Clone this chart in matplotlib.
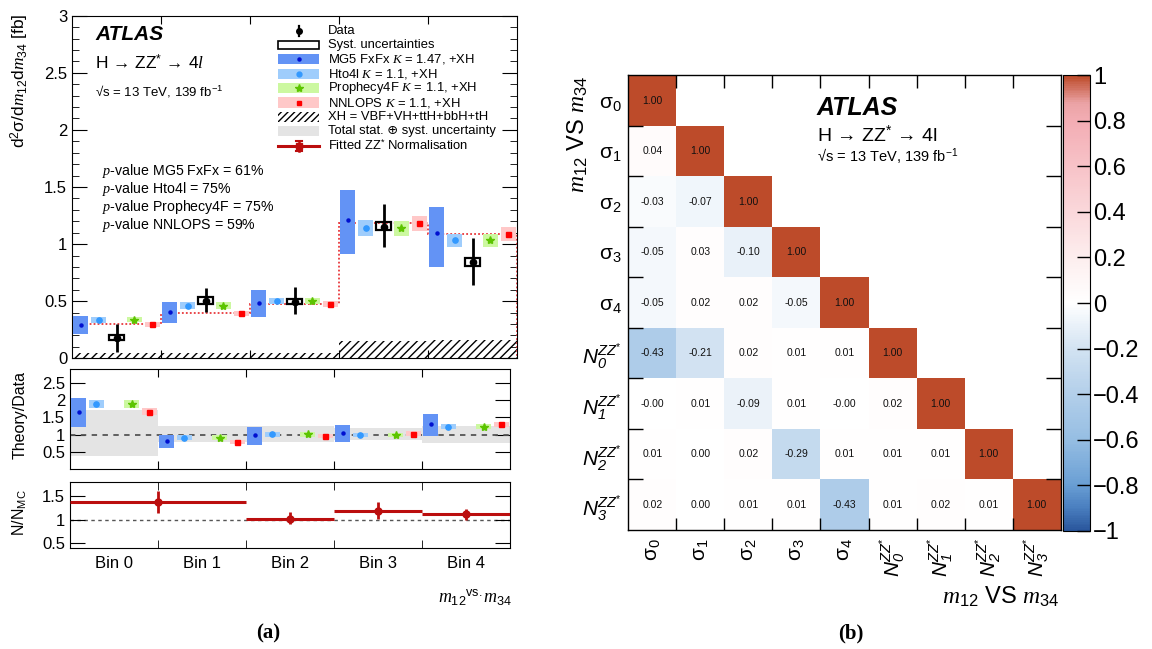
import matplotlib
matplotlib.use('Agg')

import numpy as np
import matplotlib.pyplot as plt
from matplotlib.patches import Rectangle
from matplotlib.lines import Line2D
from matplotlib.colors import LinearSegmentedColormap
from matplotlib.ticker import MultipleLocator, NullLocator, FixedLocator, FuncFormatter

plt.rcParams['font.family'] = ['Liberation Sans', 'DejaVu Sans']
plt.rcParams['mathtext.fontset'] = 'custom'
plt.rcParams['mathtext.rm'] = 'Liberation Sans'
plt.rcParams['mathtext.it'] = 'Liberation Serif:italic'
plt.rcParams['mathtext.bf'] = 'Liberation Sans:bold'
plt.rcParams['mathtext.sf'] = 'Liberation Sans:italic'
plt.rcParams['hatch.linewidth'] = 1.0

# ---- panel (a) data ----
bins = ["Bin 0", "Bin 1", "Bin 2", "Bin 3", "Bin 4"]

mg5 = [0.294, 0.409, 0.485, 1.215, 1.094]
mg5_lo = [0.212, 0.309, 0.358, 0.909, 0.803]
mg5_hi = [0.367, 0.494, 0.597, 1.470, 1.329]
hto4l = [0.338, 0.461, 0.500, 1.144, 1.033]
hto4l_lo = [0.309, 0.432, 0.473, 1.073, 0.971]
hto4l_hi = [0.358, 0.490, 0.530, 1.209, 1.086]
proph = [0.338, 0.461, 0.503, 1.141, 1.035]
proph_lo = [0.314, 0.432, 0.473, 1.070, 0.976]
proph_hi = [0.362, 0.490, 0.532, 1.200, 1.088]
nnlops = [0.300, 0.397, 0.477, 1.185, 1.088]
nnlops_lo = [0.274, 0.373, 0.450, 1.117, 1.024]
nnlops_hi = [0.314, 0.417, 0.500, 1.250, 1.147]
data = [0.180, 0.506, 0.497, 1.153, 0.841]
data_lo = [0.058, 0.406, 0.388, 0.976, 0.641]
data_hi = [0.300, 0.618, 0.620, 1.353, 1.053]
syst_lo = [0.159, 0.479, 0.476, 1.121, 0.806]
syst_hi = [0.203, 0.535, 0.523, 1.197, 0.879]
xh = [0.045, 0.050, 0.050, 0.155, 0.160]

# theory / data
r_mg5 = [1.667, 0.817, 0.990, 1.056, 1.294]
r_mg5_lo = [1.210, 0.596, 0.710, 0.777, 0.950]
r_mg5_hi = [2.050, 0.978, 1.210, 1.286, 1.600]
r_hto4l = [1.880, 0.912, 1.007, 0.990, 1.228]
r_hto4l_lo = [1.765, 0.846, 0.940, 0.920, 1.150]
r_hto4l_hi = [2.000, 0.978, 1.076, 1.056, 1.306]
r_proph = [1.880, 0.912, 1.010, 0.990, 1.228]
r_proph_lo = [1.765, 0.846, 0.940, 0.920, 1.150]
r_proph_hi = [2.000, 0.978, 1.086, 1.056, 1.315]
r_nnlops = [1.667, 0.789, 0.960, 1.027, 1.294]
r_nnlops_lo = [1.553, 0.720, 0.892, 0.960, 1.219]
r_nnlops_hi = [1.765, 0.855, 1.027, 1.093, 1.372]
band_lo = [0.375, 0.777, 0.770, 0.835, 0.760]
band_hi = [1.716, 1.237, 1.257, 1.180, 1.257]

# fitted ZZ* normalisation
n_edges = [0, 2, 3, 4, 5]
n_fit = [1.373, 1.020, 1.190, 1.110]
n_fit_lo = [1.14, 0.91, 1.01, 0.99]
n_fit_hi = [1.60, 1.15, 1.37, 1.22]

pvalues = ["MG5 FxFx = 61%", "Hto4l = 75%", "Prophecy4F = 75%", "NNLOPS = 59%"]

# ---- panel (b) data ----
corr_labels = ["σ$_{0}$", "σ$_{1}$", "σ$_{2}$", "σ$_{3}$", "σ$_{4}$",
               r"$\mathsf{N}_{\mathsf{0}}^{\mathsf{ZZ}^{*}}$", r"$\mathsf{N}_{\mathsf{1}}^{\mathsf{ZZ}^{*}}$",
               r"$\mathsf{N}_{\mathsf{2}}^{\mathsf{ZZ}^{*}}$", r"$\mathsf{N}_{\mathsf{3}}^{\mathsf{ZZ}^{*}}$"]
corr_rows = [
    [1.00],
    [0.04, 1.00],
    [-0.03, -0.07, 1.00],
    [-0.05, 0.03, -0.10, 1.00],
    [-0.05, 0.02, 0.02, -0.05, 1.00],
    [-0.43, -0.21, 0.02, 0.01, 0.01, 1.00],
    [-0.00, 0.01, -0.09, 0.01, -0.00, 0.02, 1.00],
    [0.01, 0.00, 0.02, -0.29, 0.01, 0.01, 0.01, 1.00],
    [0.02, 0.00, 0.01, 0.01, -0.43, 0.01, 0.02, 0.01, 1.00],
]

C_MG5, D_MG5 = '#6393f5', '#0010d0'
C_HTO, D_HTO = '#9fcdfc', '#3399ff'
C_PRO, D_PRO = '#ccf8a0', '#5cc400'
C_NNL, D_NNL = '#ffc8c8', '#ff0000'
C_BAND = '#e4e4e4'
C_FIT = '#bb0e0e'

W, H = 1152, 649
fig = plt.figure(figsize=(W / 100, H / 100), dpi=100)


def fx(x):
    return x / W


def fy(y):
    return 1 - y / H


def px_axes(x0, y0, x1, y1):
    return fig.add_axes([fx(x0), fy(y1), (x1 - x0) / W, (y1 - y0) / H])


ax = px_axes(72, 15.7, 517, 358.3)
axr = px_axes(70, 369, 510, 469)
axn = px_axes(70, 481.7, 510, 548)

slots = np.array([0.1, 0.3, 0.5, 0.7, 0.9])
bw = 0.17
idx = np.arange(len(bins))


def boxes(a, pos, lo, hi, color, z=3):
    lo = np.array(lo)
    hi = np.array(hi)
    a.bar(idx + pos, hi - lo, bottom=lo, width=bw, color=color, zorder=z, linewidth=0)


# main panel
ax.bar(idx + 0.5, xh, width=1.0, color='white', edgecolor='black', hatch='////', linewidth=0, zorder=1)
ax.stairs(nnlops, np.arange(6), color='#e8383c', linestyle=(0, (1, 1.2)), linewidth=1.3, zorder=2)
boxes(ax, slots[0], mg5_lo, mg5_hi, C_MG5)
boxes(ax, slots[1], hto4l_lo, hto4l_hi, C_HTO)
boxes(ax, slots[3], proph_lo, proph_hi, C_PRO)
boxes(ax, slots[4], nnlops_lo, nnlops_hi, C_NNL)
ax.plot(idx + slots[0], mg5, 'o', color=D_MG5, ms=2.2, zorder=5)
ax.plot(idx + slots[1], hto4l, 'o', color=D_HTO, ms=3.8, zorder=5)
ax.plot(idx + slots[3], proph, '*', color=D_PRO, ms=6, zorder=5)
ax.plot(idx + slots[4], nnlops, 's', color=D_NNL, ms=3.6, zorder=5)
sl = np.array(syst_lo)
ax.bar(idx + slots[2], np.array(syst_hi) - sl, bottom=sl, width=bw, facecolor='none',
       edgecolor='black', linewidth=1.6, zorder=6)
ax.errorbar(idx + slots[2], data,
            yerr=[np.array(data) - np.array(data_lo), np.array(data_hi) - np.array(data)],
            fmt='o', color='black', ms=4.5, elinewidth=2.0, capsize=0, zorder=7)

ax.set_xlim(0, 5)
ax.set_ylim(0, 3)
ax.yaxis.set_major_locator(MultipleLocator(0.5))
ax.yaxis.set_minor_locator(MultipleLocator(0.1))
ax.yaxis.set_major_formatter(FuncFormatter(lambda v, p: f"{v:g}"))
ax.xaxis.set_major_locator(FixedLocator([1, 2, 3, 4]))
ax.xaxis.set_minor_locator(NullLocator())
ax.tick_params(axis='both', which='both', direction='in', top=True, right=True, labelsize=12)
ax.tick_params(axis='y', which='major', length=10.8)
ax.tick_params(axis='y', which='minor', length=5)
ax.tick_params(axis='x', which='major', length=5.8, labelbottom=False)

# legend, drawn row by row
leg_labels = [
    "Data",
    "Syst. uncertainties",
    "MG5 FxFx $K$ = 1.47, +XH",
    "Hto4l $K$ = 1.1, +XH",
    "Prophecy4F $K$ = 1.1, +XH",
    "NNLOPS $K$ = 1.1, +XH",
    "XH = VBF+VH+ttH+bbH+tH",
    "Total stat. ⊕ syst. uncertainty",
    "Fitted ZZ$^{*}$ Normalisation",
]
leg_x0, leg_x1, leg_top, leg_step = 278, 319, 30.5, 14.4
leg_xc = (leg_x0 + leg_x1) / 2


def leg_box(yc, **kw):
    fig.add_artist(Rectangle((fx(leg_x0), fy(yc + 5)), (leg_x1 - leg_x0) / W, 10 / H,
                             transform=fig.transFigure, **kw))


def leg_mark(yc, **kw):
    fig.add_artist(Line2D([fx(leg_xc)], [fy(yc)], transform=fig.transFigure, ls='none', **kw))


for k, lab in enumerate(leg_labels):
    yc = leg_top + leg_step * k
    if k == 0:
        fig.add_artist(Line2D([fx(leg_xc)] * 2, [fy(yc - 5), fy(yc + 5)], transform=fig.transFigure,
                              color='black', lw=1.6))
        leg_mark(yc, marker='o', ms=4, color='black')
    elif k == 1:
        fig.add_artist(Rectangle((fx(leg_x0), fy(yc + 4)), (leg_x1 - leg_x0) / W, 8 / H,
                                 transform=fig.transFigure, facecolor='white', edgecolor='black', lw=1.2))
    elif k == 2:
        leg_box(yc, facecolor=C_MG5, lw=0)
        leg_mark(yc, marker='o', ms=2.2, color=D_MG5)
    elif k == 3:
        leg_box(yc, facecolor=C_HTO, lw=0)
        leg_mark(yc, marker='o', ms=3.5, color=D_HTO)
    elif k == 4:
        leg_box(yc, facecolor=C_PRO, lw=0)
        leg_mark(yc, marker='*', ms=6, color=D_PRO)
    elif k == 5:
        leg_box(yc, facecolor=C_NNL, lw=0)
        leg_mark(yc, marker='s', ms=3.4, color=D_NNL)
    elif k == 6:
        leg_box(yc, facecolor='white', edgecolor='black', hatch='/////', lw=0)
    elif k == 7:
        leg_box(yc, facecolor=C_BAND, lw=0)
    else:
        fig.add_artist(Line2D([fx(leg_x0), fx(leg_x1)], [fy(yc)] * 2, transform=fig.transFigure,
                              color=C_FIT, lw=2.2))
        fig.add_artist(Line2D([fx(leg_xc)] * 2, [fy(yc - 5), fy(yc + 5)], transform=fig.transFigure,
                              color=C_FIT, lw=1.8))
        for yy in (yc - 5, yc + 5):
            fig.add_artist(Line2D([fx(leg_xc - 3), fx(leg_xc + 3)], [fy(yy)] * 2,
                                  transform=fig.transFigure, color=C_FIT, lw=1.5))
        leg_mark(yc, marker='s', ms=4.5, color=C_FIT)
    fig.text(fx(327.7), fy(yc), lab, fontsize=9.4, va='center', ha='left')

fig.text(fx(95), fy(35), "ATLAS", fontsize=15, fontweight='bold', fontstyle='italic', va='center')
fig.text(fx(95), fy(63), r"H → ZZ$^{*}$ → 4$\mathit{l}$", fontsize=12.5, va='center')
fig.text(fx(95), fy(91), "√s = 13 TeV, 139 fb$^{-1}$", fontsize=9.5, va='center')
for k, txt in enumerate(pvalues):
    fig.text(fx(101.7), fy(170.7 + 18.1 * k), "$p$-value " + txt, fontsize=10.2, va='center')

fig.text(fx(20), fy(13), "d$^{2}$σ/d$m_{12}$d$m_{34}$ [fb]", rotation=90, fontsize=12.5,
         ha='center', va='top')

# ratio panel
axr.bar(idx + 0.5, np.array(band_hi) - np.array(band_lo), bottom=band_lo, width=1.0,
        color=C_BAND, linewidth=0, zorder=1)
axr.axhline(1.0, color='#555555', ls=(0, (3, 3)), lw=1.3, zorder=2)
boxes(axr, slots[0], r_mg5_lo, r_mg5_hi, C_MG5)
boxes(axr, slots[1], r_hto4l_lo, r_hto4l_hi, C_HTO)
boxes(axr, slots[3], r_proph_lo, r_proph_hi, C_PRO)
boxes(axr, slots[4], r_nnlops_lo, r_nnlops_hi, C_NNL)
axr.plot(idx + slots[0], r_mg5, 'o', color=D_MG5, ms=2.2, zorder=5)
axr.plot(idx + slots[1], r_hto4l, 'o', color=D_HTO, ms=3.8, zorder=5)
axr.plot(idx + slots[3], r_proph, '*', color=D_PRO, ms=6, zorder=5)
axr.plot(idx + slots[4], r_nnlops, 's', color=D_NNL, ms=3.6, zorder=5)
axr.set_xlim(0, 5)
axr.set_ylim(0.0, 2.9)
axr.yaxis.set_major_locator(FixedLocator([0.5, 1, 1.5, 2, 2.5]))
axr.yaxis.set_major_formatter(FuncFormatter(lambda v, p: f"{v:g}"))
axr.xaxis.set_major_locator(FixedLocator([1, 2, 3, 4]))
axr.tick_params(axis='both', direction='in', top=True, right=True, labelsize=12)
axr.tick_params(axis='y', length=10.8)
axr.tick_params(axis='x', length=5.8, labelbottom=False)
fig.text(fx(20), fy(371), "Theory/Data", rotation=90, fontsize=11.5, ha='center', va='top')

# normalisation panel
n_mid = [(n_edges[i] + n_edges[i + 1]) / 2 for i in range(len(n_fit))]
n_mid[0] = 1.0
axn.axhline(1.0, color='#555555', ls=(0, (2.5, 2.5)), lw=1.0, zorder=1)
axn.hlines(n_fit, n_edges[:-1], n_edges[1:], color=C_FIT, lw=2.2, zorder=3)
axn.errorbar(n_mid, n_fit,
             yerr=[np.array(n_fit) - np.array(n_fit_lo), np.array(n_fit_hi) - np.array(n_fit)],
             fmt='o', color=C_FIT, ms=5, elinewidth=2.0, capsize=0, zorder=4)
axn.set_xlim(0, 5)
axn.set_ylim(0.4, 1.8)
axn.yaxis.set_major_locator(FixedLocator([0.5, 1.0, 1.5]))
axn.yaxis.set_major_formatter(FuncFormatter(lambda v, p: f"{v:g}"))
axn.set_xticks(idx + 0.5)
axn.set_xticklabels(bins)
axn.xaxis.set_minor_locator(FixedLocator([1, 2, 3, 4]))
axn.tick_params(axis='both', which='both', direction='in', top=True, right=True, labelsize=12)
axn.tick_params(axis='y', length=10.8)
axn.tick_params(axis='x', which='major', length=0, pad=6)
axn.tick_params(axis='x', which='minor', length=5.8)
fig.text(fx(20), fy(489), "N/N$_{\\mathrm{MC}}$", rotation=90, fontsize=11.5, ha='center', va='top')

fig.text(fx(513), fy(597), r"$m_{12}{}^{\mathrm{vs.}}m_{34}$", fontsize=13, ha='right', va='center')
fig.text(fx(268), fy(633), "(a)", fontsize=15, fontweight='bold', family='Liberation Serif',
         ha='center', va='center')

# ---- panel (b) correlation matrix ----
n = len(corr_labels)
corr = np.full((n, n), np.nan)
for i, row in enumerate(corr_rows):
    corr[i, :len(row)] = row
masked = np.ma.masked_invalid(corr)

cmap = LinearSegmentedColormap.from_list('atlas_corr', [
    (0.00, '#2a579d'), (0.05, '#4a7fc0'), (0.10, '#6a9fd4'), (0.20, '#96bee3'),
    (0.30, '#b3cfea'), (0.40, '#d3e3f2'), (0.50, '#ffffff'), (0.60, '#fdeeee'),
    (0.70, '#fad8db'), (0.80, '#f7c3c8'), (0.90, '#f3adb4'), (0.94, '#eba3a6'),
    (1.00, '#bd4b2a')])
cmap.set_bad('white')

axc = px_axes(628.3, 75.3, 1060.7, 530)
cax = px_axes(1062.7, 75.3, 1090, 530.7)
mesh = axc.pcolormesh(np.arange(n + 1), np.arange(n + 1), masked, cmap=cmap, vmin=-1, vmax=1)
for i in range(n):
    for j in range(i + 1):
        axc.text(j + 0.5, i + 0.5, f"{corr[i, j]:.2f}", ha='center', va='center', fontsize=7.5,
                 color='#111111')
axc.set_xlim(0, n)
axc.set_ylim(n, 0)
axc.set_xticks(np.arange(n) + 0.5)
axc.set_yticks(np.arange(n) + 0.5)
axc.set_xticklabels(corr_labels, rotation=90, fontsize=15)
axc.set_yticklabels(corr_labels, fontsize=15)
axc.xaxis.set_minor_locator(FixedLocator(np.arange(1, n)))
axc.yaxis.set_minor_locator(FixedLocator(np.arange(1, n)))
axc.tick_params(axis='both', which='major', length=0)
axc.tick_params(axis='y', which='major', pad=5)
axc.tick_params(axis='x', which='major', pad=6)
axc.tick_params(axis='y', which='minor', direction='in', length=10.8, left=True, right=True, width=1)
axc.tick_params(axis='x', which='minor', direction='in', length=9, top=True, bottom=True, width=1)
for s in axc.spines.values():
    s.set_linewidth(1.0)


def cb_fmt(v, p):
    v = round(v, 1)
    if abs(v) < 1e-9:
        return "0"
    return f"{v:g}".replace('-', '\u2212')


cb = fig.colorbar(mesh, cax=cax)
cb.set_ticks(np.round(np.arange(-1, 1.01, 0.2), 1))
cb.ax.yaxis.set_major_formatter(FuncFormatter(cb_fmt))
cb.ax.tick_params(direction='in', length=9.4, labelsize=17, pad=2, width=1)
cb.outline.set_linewidth(0.8)

fig.text(fx(816.7), fy(108), "ATLAS", fontsize=18, fontweight='bold', fontstyle='italic', va='center')
fig.text(fx(816.7), fy(135), "H → ZZ$^{*}$ → 4l", fontsize=14, va='center')
fig.text(fx(816.7), fy(155.7), "√s = 13 TeV, 139 fb$^{-1}$", fontsize=10.5, va='center')

fig.text(fx(1060), fy(597), "$m_{12}$ VS $m_{34}$", fontsize=17, ha='right', va='center')
fig.text(fx(578), fy(75), "$m_{12}$ VS $m_{34}$", fontsize=17, rotation=90, ha='center', va='top')
fig.text(fx(851), fy(633), "(b)", fontsize=15, fontweight='bold', family='Liberation Serif',
         ha='center', va='center')

fig.savefig('out.png', dpi=100)
